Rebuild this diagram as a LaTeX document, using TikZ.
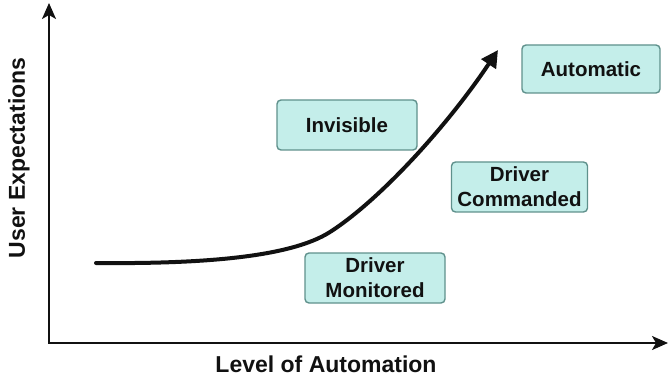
\documentclass[tikz,border=0pt]{standalone}
\usepackage{fontspec}
\setmainfont{Liberation Sans}
\usetikzlibrary{arrows.meta}
\definecolor{boxfill}{HTML}{C4EEEA}
\definecolor{boxline}{HTML}{5F918C}
\definecolor{ink}{HTML}{111111}
\begin{document}
\begin{tikzpicture}[x=1pt,y=-1pt,
  stagebox/.style={draw=boxline, line width=1.4pt, fill=boxfill, rounded corners=4pt,
    inner sep=0pt, align=center, text=ink,
    font=\fontsize{20.5}{25}\selectfont\bfseries},
  axislabel/.style={text=ink, inner sep=0pt, font=\fontsize{23}{27}\selectfont\bfseries},
  axisline/.style={line width=2pt, ink, -{Stealth[length=16pt,width=14pt,inset=4pt]}},
  trend/.style={line width=4pt, ink, line cap=round, -{Triangle[length=17pt,width=17pt]}}]
\useasboundingbox (0,0) rectangle (669,382);
\coordinate (origin) at (49,343);
\coordinate (ytop) at (49,3);
\coordinate (xend) at (668,343);
\draw[axisline] (origin) -- (ytop);
\draw[axisline] ([xshift=-1pt]origin) -- (xend);
\node[axislabel, rotate=90] (ylab) at (19,158) {User Expectations};
\node[axislabel] (xlab) at (326,364) {Level of Automation};
\node[stagebox, minimum width=140pt, minimum height=50pt] (inv) at (347,125) {Invisible};
\node[stagebox, minimum width=136pt, minimum height=50pt] (cmd) at (519.5,187) {Driver\\Commanded};
\node[stagebox, minimum width=140pt, minimum height=50pt] (mon) at (375,278) {Driver\\Monitored};
\node[stagebox, minimum width=138pt, minimum height=48pt] (aut) at (591,69) {Automatic};
\coordinate (c0) at (96,263);
\coordinate (cm) at (330,232);
\coordinate (c1) at (498,50);
\draw[trend] (c0) .. controls (200,264) and (290,257.6) .. (cm)
  .. controls (380,200) and (448,125) .. (c1);
\end{tikzpicture}
\end{document}
